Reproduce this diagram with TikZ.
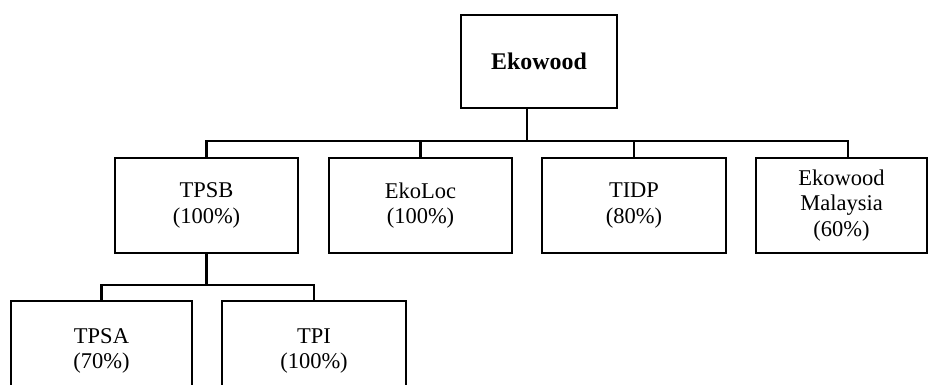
\documentclass[tikz,border=0pt]{standalone}
\usepackage{fontspec}
\setmainfont{Liberation Serif}
\usepackage{tikz}
\usetikzlibrary{positioning,calc}

\begin{document}
\begin{tikzpicture}[x=0.025cm, y=-0.025cm,
  font=\fontsize{16}{18}\selectfont,
  box/.style={draw, line width=1.9pt, align=center, inner sep=0pt, fill=white, minimum height=2.375cm},
  conn/.style={line width=1.6pt}]
  \useasboundingbox (0,0) rectangle (928,385);
  % top company
  \node[box, minimum width=3.9cm, minimum height=2.325cm, font=\fontsize{17}{19}\selectfont\bfseries] (eko) at (539,61.5) {Ekowood};
  % subsidiaries
  \node[box, minimum width=4.575cm] (tpsb) at (206.5,205.5) {TPSB\\(100\%)};
  \node[box, minimum width=4.575cm] (ekoloc) at (420.5,205.5) {EkoLoc\\(100\%)};
  \node[box, minimum width=4.6cm] (tidp) at (634,205.5) {TIDP\\(80\%)};
  \node[box, minimum width=4.275cm] (ekomy) at (841.5,205.5) {Ekowood\\Malaysia\\(60\%)};
  % under TPSB (cut off at the bottom)
  \node[box, minimum width=4.525cm, minimum height=2.5cm] (tpsa) at (101.5,351) {TPSA\\(70\%)};
  \node[box, minimum width=4.6cm, minimum height=2.5cm] (tpi) at (314,351) {TPI\\(100\%)};
  \coordinate (hub) at (527,141);
  \coordinate (myin) at (848,158);
  \draw[conn] (eko.south -| hub) -- (hub);
  \draw[conn] (tpsb.north) |- (hub) -| (myin);
  \draw[conn] (ekoloc.north) -- (ekoloc.north |- hub);
  \draw[conn] (tidp.north) -- (tidp.north |- hub);
  \draw[conn] (tpsb.south) -- ++(0,31) coordinate (sub);
  \draw[conn] (tpsa.north) |- (sub) -| (tpi.north);
\end{tikzpicture}
\end{document}
